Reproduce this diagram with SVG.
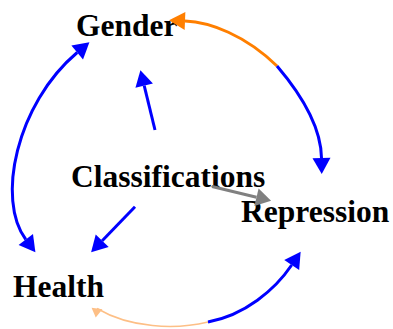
<svg xmlns="http://www.w3.org/2000/svg" width="393" height="329" viewBox="0 0 393 329">
  <style>
    .label { font-family: "Liberation Serif", "Times New Roman", serif; font-weight: bold; font-size: 31.5px; fill: #000; }
    .edge { fill: none; stroke-width: 3; }
    .blue { stroke: #0000ff; }
    .orange { stroke: #ff7f00; }
    .grey { stroke: #808080; }
    .peach { stroke: #fdbf86; stroke-width: 1.5; fill: none; }
  </style>
  <defs>
    <marker id="head-blue" markerUnits="userSpaceOnUse" markerWidth="17" markerHeight="19" refX="0" refY="9" orient="auto-start-reverse" overflow="visible">
      <path d="M0,0 L16,9 L0,18 z" fill="#0000ff"/>
    </marker>
    <marker id="head-orange" markerUnits="userSpaceOnUse" markerWidth="17" markerHeight="19" refX="0" refY="9" orient="auto" overflow="visible">
      <path d="M0,0 L16,9 L0,18 z" fill="#ff7f00"/>
    </marker>
    <marker id="head-grey" markerUnits="userSpaceOnUse" markerWidth="17" markerHeight="19" refX="0" refY="9" orient="auto" overflow="visible">
      <path d="M0,0 L15,9 L0,18 z" fill="#808080"/>
    </marker>
    <marker id="head-peach" markerUnits="userSpaceOnUse" markerWidth="11" markerHeight="12" refX="0" refY="5.5" orient="98" overflow="visible">
      <path d="M0,0 L9,5.5 L0,11 z" fill="#fdbf86"/>
    </marker>
  </defs>

  <!-- nodes -->
  <g id="node-gender">
    <text class="label" x="76" y="36">Gender</text>
  </g>
  <g id="node-classifications">
    <text class="label" x="71" y="187">Classifications</text>
  </g>
  <g id="node-repression">
    <text class="label" x="241" y="222">Repression</text>
  </g>
  <g id="node-health">
    <text class="label" x="13" y="297">Health</text>
  </g>

  <!-- connectors -->
  <g id="connectors">
    <!-- Classifications -> Gender -->
    <path class="edge blue" d="M155,130 L144.2,85.7" marker-end="url(#head-blue)"/>
    <!-- Classifications -> Health -->
    <path class="edge blue" d="M135,206.7 L102.2,240.8" marker-end="url(#head-blue)"/>
    <!-- Classifications -> Repression -->
    <path class="edge grey" d="M212,186.5 L256.5,197.3" marker-end="url(#head-grey)"/>
    <!-- Gender <-> Repression -->
    <path class="edge orange" d="M277,66 C245,35 210,22 185,21" marker-end="url(#head-orange)"/>
    <path class="edge blue" d="M277,66 C300,93 321,125 321.5,158" marker-end="url(#head-blue)"/>
    <!-- Gender <-> Health -->
    <path class="edge blue" d="M77.2,52.5 C16.1,104.1 -3.8,200 25.8,239.5" marker-start="url(#head-blue)" marker-end="url(#head-blue)"/>
    <!-- Health <-> Repression -->
    <path class="peach" d="M208,322 C175,330 130,328 97,308.5" marker-end="url(#head-peach)"/>
    <path class="edge blue" d="M208,322 C245,315 274.9,289.9 291.7,265" marker-end="url(#head-blue)"/>
  </g>
</svg>
